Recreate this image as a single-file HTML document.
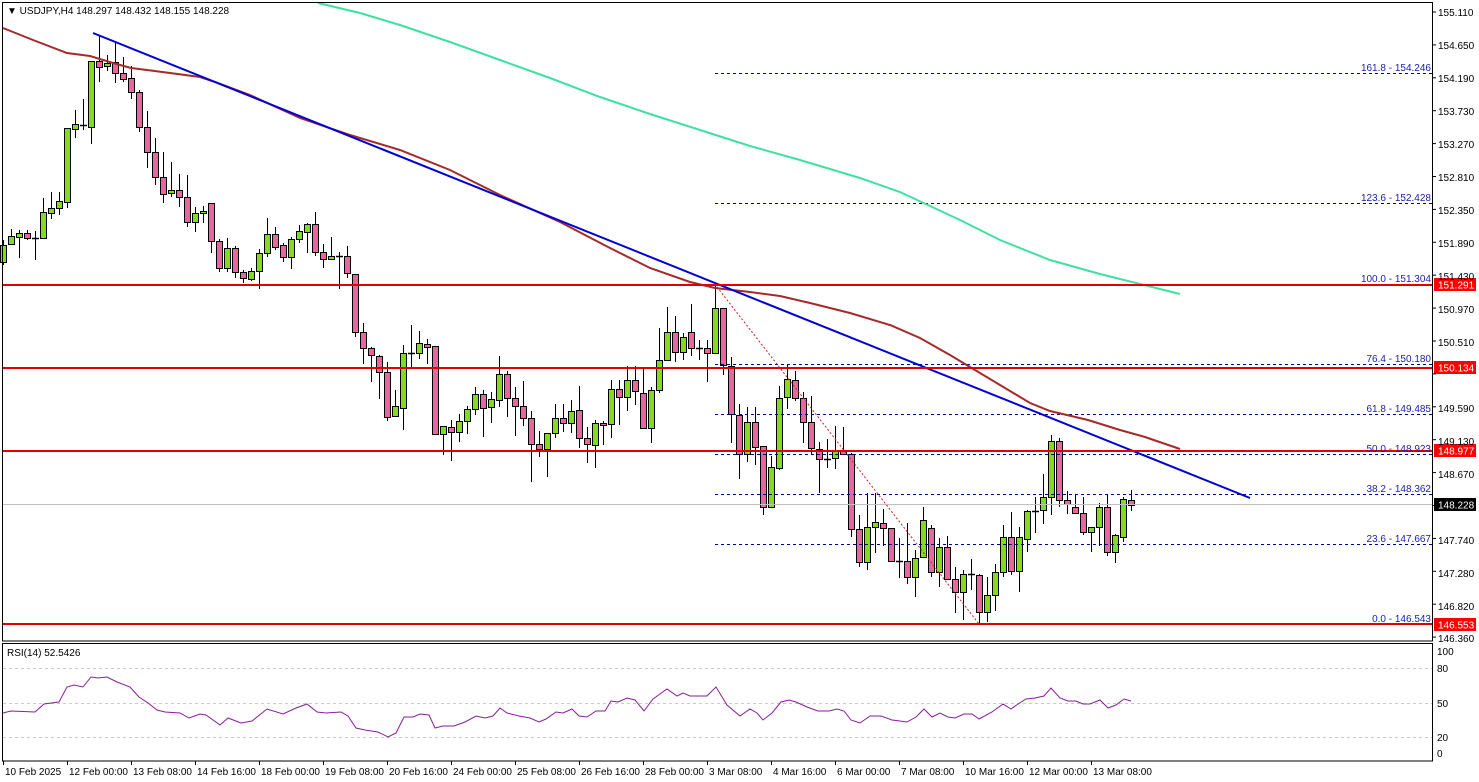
<!DOCTYPE html>
<html><head><meta charset="utf-8"><style>
html,body{margin:0;padding:0;background:#fff;}
svg{display:block;}
text{font-family:"Liberation Sans",sans-serif;font-size:10px;}
</style></head><body>
<svg id="s" width="1479" height="782" xmlns="http://www.w3.org/2000/svg">
<rect x="0" y="0" width="1479" height="782" fill="#fff"/>
<g id="cand"></g>
<!-- lines -->
<line x1="3" y1="504.5" x2="1432" y2="504.5" stroke="#c0c0c0" stroke-width="1"/>
<g stroke="#00008b" stroke-width="1" stroke-dasharray="3,3">
<line x1="715" y1="73.5" x2="1432" y2="73.5"/>
<line x1="715" y1="203.5" x2="1432" y2="203.5"/>
<line x1="715" y1="284.5" x2="1432" y2="284.5"/>
<line x1="715" y1="364.5" x2="1432" y2="364.5"/>
<line x1="715" y1="414.5" x2="1432" y2="414.5"/>
<line x1="715" y1="454.5" x2="1432" y2="454.5"/>
<line x1="715" y1="494.5" x2="1432" y2="494.5"/>
<line x1="715" y1="544.5" x2="1432" y2="544.5"/>
<line x1="715" y1="624.5" x2="1432" y2="624.5"/>
</g>
<line x1="717" y1="287" x2="979" y2="624" stroke="#d02020" stroke-width="1" stroke-dasharray="2,2"/>
<polyline fill="none" stroke="#a52a2a" stroke-width="2" points="3,28 33,40 67,53 90,56 113,63 131,68 147,70 170,73 200,77 215,82 250,95 300,118 350,135 400,150 450,170 500,195 560,222 610,248 650,268 690,282 715,288 750,292 780,296 810,303 850,313 890,325 920,338 950,355 975,370 1000,385 1030,403 1050,411 1088,420 1120,430 1145,437 1180,449"/>
<polyline fill="none" stroke="#3fe0a0" stroke-width="2" points="318,3 360,13 400,25 450,42 500,60 550,78 600,97 650,114 700,130 750,146 800,160 860,178 900,192 930,206 960,220 1000,240 1050,260 1100,274 1140,284 1180,294"/>
<line x1="93" y1="33" x2="1250" y2="498" stroke="#0000d0" stroke-width="2"/>
<g stroke="#e00000" stroke-width="2">
<line x1="3" y1="285" x2="1432" y2="285"/>
<line x1="3" y1="368" x2="1432" y2="368"/>
<line x1="3" y1="451" x2="1432" y2="451"/>
<line x1="3" y1="624" x2="1432" y2="624"/>
</g>
<g fill="#1c1ca8" text-anchor="end">
<text x="1431" y="71">161.8 - 154.246</text>
<text x="1431" y="201">123.6 - 152.428</text>
<text x="1431" y="282">100.0 - 151.304</text>
<text x="1431" y="362">76.4 - 150.180</text>
<text x="1431" y="412">61.8 - 149.485</text>
<text x="1431" y="452">50.0 - 148.923</text>
<text x="1431" y="492">38.2 - 148.362</text>
<text x="1431" y="542">23.6 - 147.667</text>
<text x="1431" y="622">0.0 - 146.543</text>
</g>
<!-- frames -->
<rect x="2.5" y="2.5" width="1430" height="638.5" fill="none" stroke="#000" stroke-width="1"/>
<rect x="2.5" y="643.5" width="1430" height="117.5" fill="none" stroke="#000" stroke-width="1"/>
<text x="7" y="14" font-size="10">▼ USDJPY,H4  148.297 148.432 148.155 148.228</text>
<!-- price axis -->
<g id="pax" fill="#000"></g>
<g>
<rect x="1434" y="278" width="42" height="13" fill="#f00"/><text x="1438" y="288.5" fill="#fff">151.291</text>
<rect x="1434" y="361" width="42" height="13" fill="#f00"/><text x="1438" y="371.5" fill="#fff">150.134</text>
<rect x="1434" y="444" width="42" height="13" fill="#f00"/><text x="1438" y="454.5" fill="#fff">148.977</text>
<rect x="1434" y="498" width="42" height="13" fill="#000"/><text x="1438" y="508.5" fill="#fff">148.228</text>
<rect x="1434" y="618" width="42" height="13" fill="#f00"/><text x="1438" y="628.5" fill="#fff">146.553</text>
</g>
<!-- RSI -->
<text x="7" y="656">RSI(14) 52.5426</text>
<g stroke="#c8c8c8" stroke-width="1" stroke-dasharray="3,3">
<line x1="3" y1="668.5" x2="1432" y2="668.5"/>
<line x1="3" y1="703.5" x2="1432" y2="703.5"/>
<line x1="3" y1="737.5" x2="1432" y2="737.5"/>
</g>
<g fill="#000">
<text x="1437" y="655">100</text>
<text x="1437" y="672">80</text>
<text x="1437" y="707">50</text>
<text x="1437" y="741">20</text>
<text x="1437" y="757">0</text>
</g>
<polyline fill="none" stroke="#8a1c9c" stroke-width="1" points="3,713 11,711 35,712 44,704 59,702 67,687 74,685 83,687 91,677 98,678 107,677 117,682 130,687 139,697 148,703 157,710 165,712 180,713 189,718 200,714 206,715 220,725 228,718 241,723 252,721 267,709 283,714 296,708 307,704 317,712 326,713 341,712 348,716 356,728 365,730 378,732 388,737 396,733 404,717 413,717 420,714 429,715 435,728 443,726 454,726 465,722 476,716 485,718 493,716 500,708 507,713 519,716 530,718 539,722 546,719 556,712 563,713 572,709 579,716 587,717 596,711 605,711 611,701 618,702 627,698 635,700 644,711 653,699 667,689 677,696 683,693 690,696 707,696 716,687 727,705 740,716 750,709 757,713 763,720 772,713 781,702 789,700 796,702 807,707 818,711 829,711 837,709 844,711 851,720 860,723 870,716 881,716 892,720 900,721 907,722 916,717 924,709 932,717 940,713 948,717 955,718 964,714 972,714 979,719 992,712 1003,704 1011,709 1018,704 1026,699 1035,698 1044,696 1051,688 1060,698 1068,701 1076,701 1083,704 1090,704 1100,700 1108,708 1116,705 1124,699 1131,701"/>
<!-- date axis -->
<g id="dax"></g>
<g fill="#000">
<text x="5" y="775">10 Feb 2025</text>
<text x="69" y="775">12 Feb 00:00</text>
<text x="133" y="775">13 Feb 08:00</text>
<text x="197" y="775">14 Feb 16:00</text>
<text x="261" y="775">18 Feb 00:00</text>
<text x="325" y="775">19 Feb 08:00</text>
<text x="389" y="775">20 Feb 16:00</text>
<text x="453" y="775">24 Feb 00:00</text>
<text x="517" y="775">25 Feb 08:00</text>
<text x="581" y="775">26 Feb 16:00</text>
<text x="645" y="775">28 Feb 00:00</text>
<text x="709" y="775">3 Mar 08:00</text>
<text x="773" y="775">4 Mar 16:00</text>
<text x="837" y="775">6 Mar 00:00</text>
<text x="901" y="775">7 Mar 08:00</text>
<text x="965" y="775">10 Mar 16:00</text>
<text x="1029" y="775">12 Mar 00:00</text>
<text x="1093" y="775">13 Mar 08:00</text>
</g>
<g fill="#000">
<text x="1438" y="16">155.110</text>
<text x="1438" y="49">154.650</text>
<text x="1438" y="82">154.190</text>
<text x="1438" y="115">153.730</text>
<text x="1438" y="148">153.270</text>
<text x="1438" y="181">152.810</text>
<text x="1438" y="214">152.350</text>
<text x="1438" y="247">151.890</text>
<text x="1438" y="280">151.430</text>
<text x="1438" y="313">150.970</text>
<text x="1438" y="346">150.510</text>
<text x="1438" y="412">149.590</text>
<text x="1438" y="445">149.130</text>
<text x="1438" y="478">148.670</text>
<text x="1438" y="544">147.740</text>
<text x="1438" y="577">147.280</text>
<text x="1438" y="610">146.820</text>
<text x="1438" y="642">146.360</text>
</g>
</svg>
<script>
var C=[
['g',245,262,240,265],['g',236,244,229,244],['g',233,237,230,258],['p',233,238,230,240],['d',238,238,231,260],
['g',212,238,198,238],['g',208,213,192,219],['g',201,208,192,215],['g',128,202,128,208],['g',124,129,110,138],
['d',125,125,99,130],['g',61,127,61,144],['p',61,67,36,82],['g',63,66,55,71],['p',62,73,43,83],
['p',73,79,57,82],['p',78,92,66,99],['p',92,127,90,132],['p',127,152,111,168],['p',152,177,138,185],
['p',177,194,152,203],['g',190,193,162,197],['p',190,197,174,207],['p',197,222,175,227],['g',213,222,207,232],
['g',211,213,206,223],['p',203,241,203,253],['p',241,268,239,272],['g',248,268,238,272],['p',248,272,246,278],
['p',272,278,270,283],['g',271,279,268,281],['g',253,271,249,289],['g',234,253,218,257],['p',234,247,227,250],
['p',245,257,243,262],['g',239,257,237,269],['g',231,239,225,243],['g',224,232,223,253],['p',224,252,212,256],
['p',252,259,244,268],['g',256,259,237,259],['d',256,256,252,289],['p',256,273,246,278],['p',274,332,274,337],
['p',332,348,323,364],['p',348,355,347,382],['p',356,372,355,399],['p',372,417,362,421],['g',406,416,390,417],
['g',353,408,345,430],['d',353,353,325,369],['g',343,353,331,359],['p',344,347,339,364],['p',346,434,346,435],
['g',426,434,426,455],['p',427,432,420,461],['g',421,432,414,442],['g',409,421,406,434],['g',394,409,387,415],
['p',394,408,390,437],['g',399,407,392,423],['g',374,400,356,407],['p',374,398,371,417],['p',398,406,387,436],
['p',406,418,381,426],['p',418,444,411,482],['p',444,449,431,457],['g',433,449,433,477],['g',418,433,404,438],
['p',418,423,404,432],['g',411,423,400,433],['p',410,438,386,448],['p',438,444,427,463],['g',423,445,420,468],
['p',423,425,421,445],['g',389,424,380,438],['p',389,397,380,425],['g',380,397,366,411],['p',380,391,366,405],
['p',393,428,368,429],['g',390,428,387,443],['g',360,390,328,393],['g',332,360,307,360],['p',332,352,316,362],
['g',337,352,333,360],['p',332,348,304,356],['d',348,348,340,360],['p',348,353,340,382],['g',308,353,286,353],
['p',308,365,308,375],['p',366,414,357,443],['p',415,454,404,479],['g',422,454,407,462],['p',422,447,407,465],
['p',446,507,446,515],['g',467,507,456,508],['g',398,468,386,470],['g',379,397,365,409],['p',380,398,371,401],
['p',398,422,392,443],['p',422,448,396,455],['p',449,459,442,493],['d',459,459,439,468],['g',450,458,426,469],
['p',450,454,427,455],['p',454,529,453,537],['p',529,562,515,567],['g',527,562,493,570],['g',522,527,493,553],
['p',523,528,509,546],['p',528,561,528,562],['d',561,561,538,578],['p',561,577,523,584],['g',558,577,550,597],
['g',520,557,507,558],['p',528,572,525,577],['g',547,572,538,587],['p',547,579,536,580],['p',579,592,567,613],
['g',574,592,570,620],['d',574,574,559,590],['p',575,612,574,623],['g',595,612,577,622],['g',572,595,564,611],
['g',537,572,525,577],['p',537,571,512,575],['g',537,571,527,592],['g',511,539,510,552],['d',511,511,497,533],
['g',497,510,474,524],['g',441,497,435,515],['p',441,500,438,507],['p',500,504,491,514],['p',507,513,494,514],
['p',513,532,497,535],['g',527,532,527,552],['g',507,527,503,546],['p',507,552,495,556],['g',535,552,534,563],
['g',499,537,497,542],['p',500,505,490,511]
];
var ns="http://www.w3.org/2000/svg",g=document.getElementById('cand'),h='';
for(var i=0;i<C.length;i++){var c=C[i],x=3+8*i+0.5;
h+='<line x1="'+x+'" y1="'+c[3]+'" x2="'+x+'" y2="'+c[4]+'" stroke="#000" stroke-width="1"/>';
if(c[0]=='d'){h+='<line x1="'+(x-3.5)+'" y1="'+(c[1]+0.5)+'" x2="'+(x+3.5)+'" y2="'+(c[1]+0.5)+'" stroke="#000" stroke-width="1.5"/>';}
else{var hh=Math.max(c[2]-c[1],2);h+='<rect x="'+(x-3)+'" y="'+(c[1]+0.5)+'" width="6" height="'+hh+'" fill="'+(c[0]=='g'?'#7fdc1e':'#e8679f')+'" stroke="#000" stroke-width="1"/>';}}
g.innerHTML=h;
var d=document.getElementById('dax'),t='';
[3,67,131,195,259,323,387,451,515,579,643,707,771,835,899,963,1027,1091].forEach(function(x){t+='<line x1="'+(x+0.5)+'" y1="761" x2="'+(x+0.5)+'" y2="765" stroke="#000"/>';});
var p=document.getElementById('pax');
for(var k=0;k<20;k++){var y=12+k*32.9;t+='<line x1="1432" y1="'+y+'" x2="1436" y2="'+y+'" stroke="#000"/>';}
d.innerHTML=t;
</script>
</body></html>
